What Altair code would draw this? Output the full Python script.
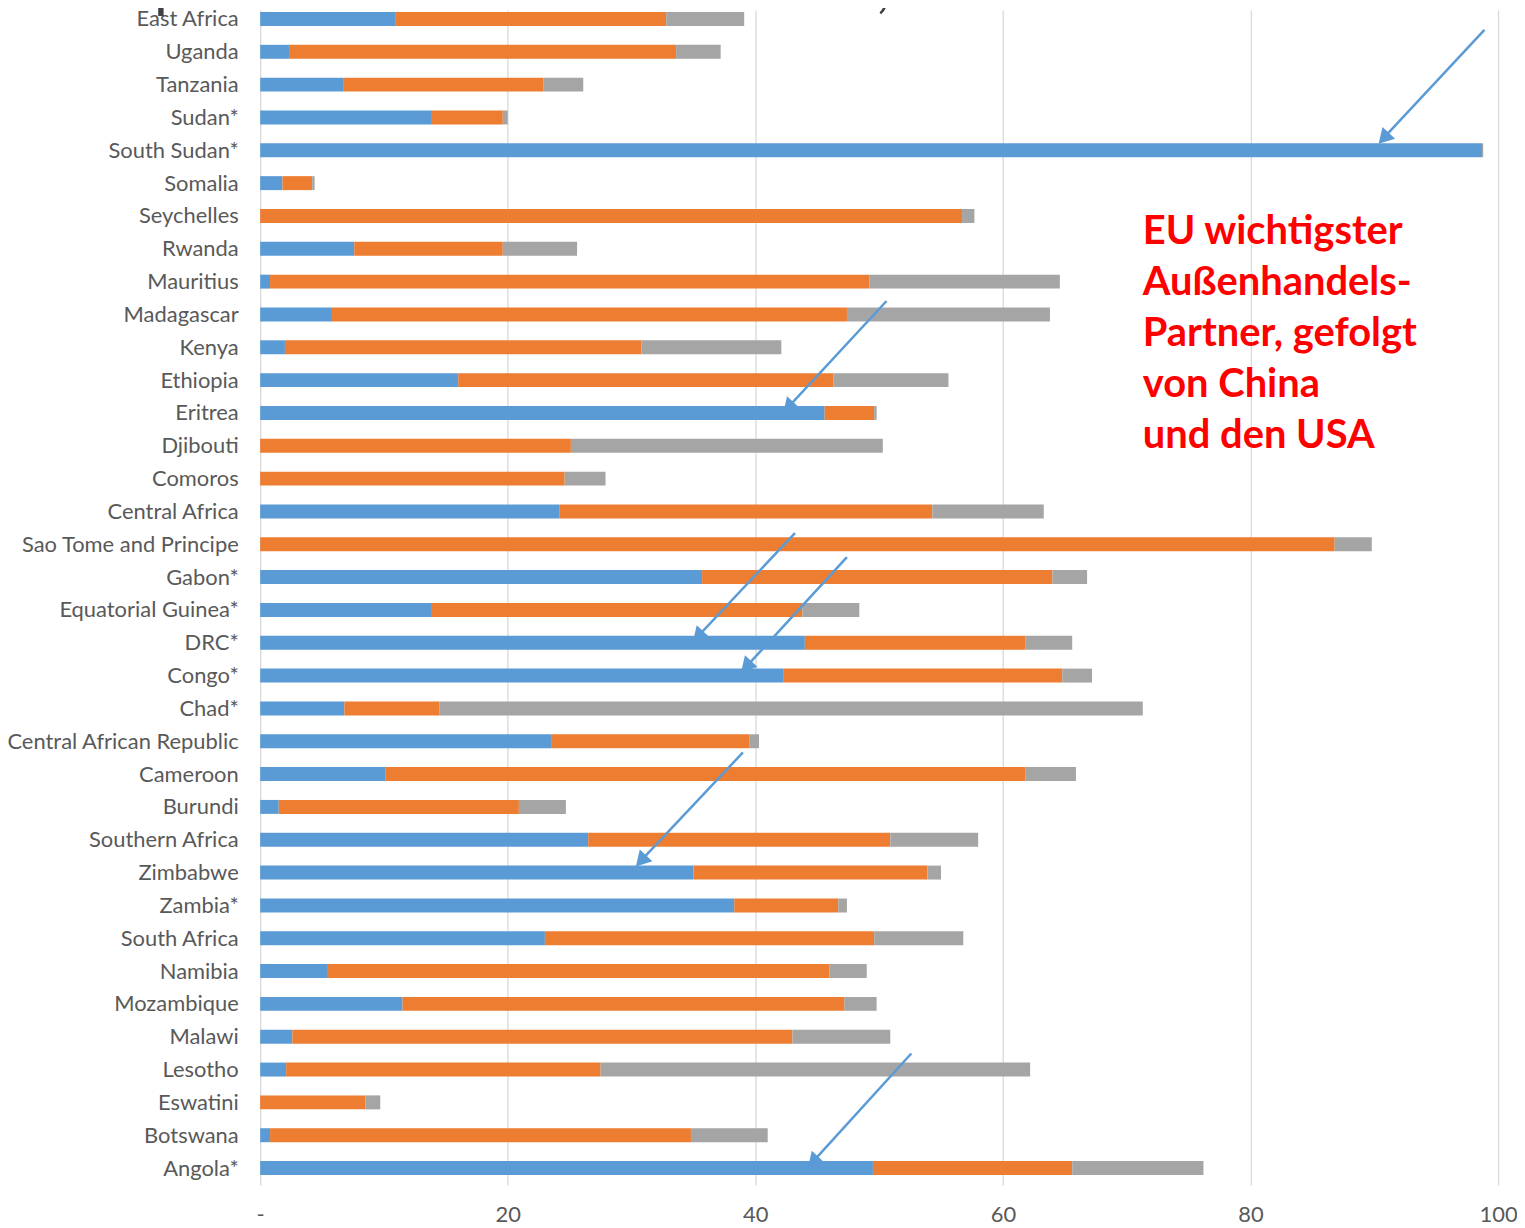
import json
import altair as alt
import pandas as pd

countries = ["East Africa", "Uganda", "Tanzania", "Sudan*", "South Sudan*", "Somalia",
             "Seychelles", "Rwanda", "Mauritius", "Madagascar", "Kenya", "Ethiopia",
             "Eritrea", "Djibouti", "Comoros", "Central Africa", "Sao Tome and Principe",
             "Gabon*", "Equatorial Guinea*", "DRC*", "Congo*", "Chad*",
             "Central African Republic", "Cameroon", "Burundi", "Southern Africa",
             "Zimbabwe", "Zambia*", "South Africa", "Namibia", "Mozambique", "Malawi",
             "Lesotho", "Eswatini", "Botswana", "Angola*"]

china = [10.9, 2.4, 6.7, 13.8, 98.7, 1.8, 0.0, 7.6, 0.8, 5.8, 2.0, 16.0,
         45.6, 0.0, 0.0, 24.2, 0.0, 35.7, 13.8, 44.0, 42.3, 6.8,
         23.5, 10.1, 1.5, 26.5, 35.0, 38.3, 23.0, 5.4, 11.5, 2.6,
         2.1, 0.0, 0.8, 49.5]
eu = [21.9, 31.2, 16.2, 5.8, 0.0, 2.4, 56.7, 12.0, 48.4, 41.6, 28.8, 30.3,
      4.0, 25.1, 24.6, 30.1, 86.8, 28.3, 30.0, 17.8, 22.5, 7.7,
      16.0, 51.7, 19.4, 24.4, 18.9, 8.4, 26.6, 40.6, 35.7, 40.4,
      25.4, 8.5, 34.0, 16.1]
usa = [6.3, 3.6, 3.2, 0.4, 0.1, 0.2, 1.0, 6.0, 15.4, 16.4, 11.3, 9.3,
       0.2, 25.2, 3.3, 9.0, 3.0, 2.8, 4.6, 3.8, 2.4, 56.8,
       0.8, 4.1, 3.8, 7.1, 1.1, 0.7, 7.2, 3.0, 2.6, 7.9,
       34.7, 1.2, 6.2, 10.6]

series_names = ["China", "EU", "USA"]
series_colors = ["#5B9BD5", "#ED7D31", "#A5A5A5"]
x_ticks = [0, 20, 40, 60, 80, 100]

title_text = "Exporte aus Afrika nach China, EU und USA"
note_lines = ["EU wichtigster", "Außenhandels-", "Partner, gefolgt", "von China", "und den USA"]

# arrows: start (x value, row position) -> end (x value, row position)
arrow_x1 = [98.9, 50.6, 43.2, 47.4, 39.0, 52.6]
arrow_y1 = [0.33, 8.59, 15.66, 16.39, 22.34, 31.51]
arrow_x2 = [90.5, 42.4, 35.1, 39.05, 30.5, 44.4]
arrow_y2 = [3.73, 11.93, 18.91, 19.82, 25.74, 34.91]
head_x = [90.9, 42.8, 35.5, 39.4, 30.9, 44.8]
head_y = [3.58, 11.78, 18.76, 19.67, 25.59, 34.76]

vals_by_series = [china, eu, usa]
rows = []
for i, c in enumerate(countries):
    for s in range(3):
        rows.append({"country": c, "row": i, "series": series_names[s], "sidx": s,
                     "value": vals_by_series[s][i]})
df = pd.DataFrame(rows)

arrows = pd.DataFrame({"x1": arrow_x1, "y1": arrow_y1, "x2": arrow_x2, "y2": arrow_y2,
                       "hx": head_x, "hy": head_y})

FONT = "Lato"
LABEL_COLOR = "#595959"

yscale = alt.Scale(domain=[35.52, -0.273], nice=False, zero=False, padding=0)
xscale = alt.Scale(domain=[0, 100], nice=False, padding=0)

label_expr = json.dumps(countries) + "[datum.value]"

xaxis = alt.Axis(values=x_ticks, title=None, grid=True, gridColor="#D9D9D9",
                 gridWidth=1.3, domain=False, ticks=False,
                 labelExpr="datum.value == 0 ? '-' : datum.label",
                 labelFont=FONT, labelFontSize=22, labelColor=LABEL_COLOR,
                 labelPadding=20, labelOverlap=False, labelFlush=False)
yaxis = alt.Axis(values=list(range(len(countries))), title=None, grid=False,
                 domain=False, ticks=False, labelExpr=label_expr,
                 labelFont=FONT, labelFontSize=22, labelColor=LABEL_COLOR,
                 labelPadding=22, labelLimit=400, labelOverlap=False,
                 labelFlush=False, labelBound=False)

bars = alt.Chart(df).mark_bar(size=14, orient="horizontal").encode(
    x=alt.X("value:Q", stack="zero", scale=xscale, axis=xaxis),
    y=alt.Y("row:Q", scale=yscale, axis=yaxis),
    color=alt.Color("series:N", scale=alt.Scale(domain=series_names, range=series_colors),
                    legend=None),
    order=alt.Order("sidx:Q"),
)

arrow_lines = alt.Chart(arrows).mark_rule(color="#5B9BD5", strokeWidth=2.5).encode(
    x=alt.X("x1:Q", scale=xscale, axis=xaxis), y=alt.Y("y1:Q", scale=yscale, axis=yaxis),
    x2="x2:Q", y2="y2:Q"
)
arrow_heads = alt.Chart(arrows).mark_point(shape="triangle", filled=True, size=300,
                                           angle=223, color="#5B9BD5", opacity=1).encode(
    x=alt.X("hx:Q", scale=xscale, axis=xaxis), y=alt.Y("hy:Q", scale=yscale, axis=yaxis)
)

note_df = pd.DataFrame({"x": [71.3], "y": [6.5], "t": ["\n".join(note_lines)]})
note = alt.Chart(note_df).mark_text(align="left", baseline="middle", font=FONT,
                                    fontWeight="bold", fontSize=40, color="#FF0000",
                                    lineBreak="\n", lineHeight=51).encode(
    x=alt.X("x:Q", scale=xscale, axis=xaxis), y=alt.Y("y:Q", scale=yscale, axis=yaxis),
    text="t:N"
)

title_df = pd.DataFrame({"t": [title_text]})
title = alt.Chart(title_df).mark_text(align="left", baseline="alphabetic", font=FONT,
                                      fontSize=60, color="#404040").encode(
    x=alt.value(-171), y=alt.value(-4), text="t:N"
)

chart = alt.layer(bars, arrow_lines, arrow_heads, note, title).properties(
    width=1242, height=1179,
    autosize=alt.AutoSizeParams(type="none"),
    padding={"left": 253, "top": 0, "right": 19, "bottom": 41},
).configure_view(stroke=None).configure_axis(labelOverlap=False)

chart.save("out.html", embed_options={"renderer": "svg", "actions": False})
